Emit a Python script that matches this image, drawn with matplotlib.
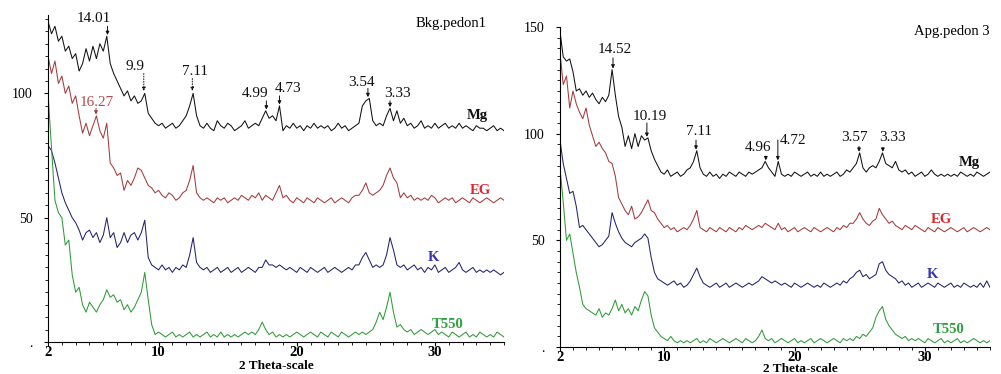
import numpy as np
import matplotlib
matplotlib.use("Agg")
import matplotlib.pyplot as plt
from matplotlib.ticker import MultipleLocator

plt.rcParams['font.family'] = ['Liberation Serif', 'DejaVu Serif']

# 2 theta grid, 0.25 deg steps from 2 to 35
two_theta = np.linspace(2, 35, 133)

# ---- left panel: Bkg.pedon1 ----
left_mg = [129, 124, 127, 121, 123, 117, 119, 114, 116, 109,
           112, 118, 113, 119, 114, 120, 117, 123, 112, 108,
           105, 102, 99, 101, 97, 99, 96, 97, 100, 92,
           90, 88, 87, 88, 86, 87, 88, 86, 87, 89,
           91, 95, 100, 91, 87, 86, 88, 86, 85, 89,
           87, 86, 88, 87, 85, 86, 87, 89, 86, 87,
           88, 87, 90, 93, 90, 91, 89, 95, 85, 87,
           86, 88, 86, 87, 85, 87, 86, 88, 86, 87,
           86, 87, 85, 86, 88, 86, 87, 85, 86, 87,
           88, 95, 97, 98, 89, 87, 88, 87, 91, 94,
           89, 93, 88, 90, 87, 88, 86, 87, 89, 86,
           87, 86, 88, 86, 87, 88, 86, 87, 86, 88,
           86, 87, 86, 85, 87, 86, 86, 85, 86, 87,
           85, 86, 85]
left_eg = [115, 108, 113, 104, 107, 100, 103, 96, 99, 91,
           84, 88, 83, 87, 91, 85, 82, 88, 72, 70,
           67, 68, 61, 65, 63, 66, 70, 69, 66, 63,
           62, 60, 61, 59, 58, 60, 59, 57, 58, 60,
           61, 65, 71, 60, 58, 57, 58, 57, 56, 58,
           57, 58, 56, 57, 58, 57, 59, 58, 57, 59,
           58, 60, 57, 59, 58, 57, 60, 63, 58, 59,
           57, 56, 58, 57, 56, 58, 57, 56, 58, 57,
           56, 57, 58, 56, 57, 58, 57, 56, 58, 59,
           59, 61, 64, 60, 59, 60, 61, 63, 67, 70,
           66, 64, 58, 60, 58, 59, 57, 58, 57, 58,
           57, 59, 58, 56, 57, 58, 57, 58, 56, 57,
           58, 57, 56, 58, 57, 56, 57, 58, 57, 56,
           57, 58, 57]
left_k = [79, 77, 72, 66, 60, 56, 53, 50, 48, 45,
          41, 44, 45, 42, 44, 40, 43, 50, 42, 44,
          38, 40, 44, 40, 43, 44, 41, 44, 49, 34,
          31, 30, 29, 31, 29, 30, 28, 30, 29, 31,
          30, 35, 42, 32, 30, 29, 30, 28, 29, 30,
          28, 29, 30, 28, 29, 30, 28, 29, 30, 29,
          28, 30, 30, 33, 31, 31, 30, 31, 30, 29,
          30, 29, 28, 30, 29, 28, 30, 29, 28, 29,
          30, 28, 29, 30, 29, 28, 29, 30, 29, 31,
          31, 34, 36, 33, 30, 31, 30, 31, 35, 42,
          37, 31, 30, 31, 29, 30, 31, 29, 30, 28,
          30, 29, 31, 28, 29, 30, 28, 29, 30, 32,
          29, 28, 29, 30, 28, 29, 28, 29, 28, 29,
          28, 27, 28]
left_t550 = [100, 78, 57, 52, 50, 39, 41, 27, 20, 22,
             15, 12, 16, 14, 12, 15, 17, 21, 18, 19,
             16, 17, 13, 15, 12, 14, 17, 20, 28, 17,
             7, 3, 4, 3, 2, 3, 4, 2, 3, 2,
             3, 4, 2, 3, 2, 3, 4, 2, 3, 2,
             4, 2, 3, 2, 3, 2, 3, 4, 3, 4,
             3, 5, 8, 5, 3, 4, 2, 3, 2, 3,
             2, 3, 4, 3, 2, 3, 4, 3, 2, 4,
             3, 2, 4, 3, 2, 4, 3, 2, 3, 4,
             3, 4, 3, 4, 5, 8, 12, 9, 14, 20,
             12, 6, 7, 5, 4, 5, 3, 4, 5, 4,
             3, 4, 5, 3, 4, 3, 2, 4, 3, 2,
             3, 4, 2, 3, 2, 4, 3, 2, 3, 2,
             4, 3, 2]

# ---- right panel: Apg.pedon 3 ----
right_mg = [148, 136, 134, 135, 129, 120, 121, 118, 120, 117,
            119, 116, 114, 117, 115, 118, 130, 118, 108, 103,
            94, 99, 93, 100, 94, 99, 97, 98, 92, 88,
            85, 82, 81, 83, 80, 81, 82, 80, 81, 83,
            84, 87, 92, 84, 81, 80, 82, 80, 81, 79,
            81, 80, 82, 81, 80, 82, 81, 80, 82, 81,
            82, 83, 84, 87, 84, 82, 80, 87, 81, 80,
            81, 80, 82, 81, 80, 81, 82, 80, 81, 80,
            82, 80, 81, 80, 81, 82, 80, 81, 83, 82,
            84, 86, 91, 84, 82, 84, 85, 84, 87, 91,
            86, 85, 84, 87, 83, 82, 83, 81, 82, 80,
            81, 82, 80, 81, 83, 81, 80, 81, 80, 81,
            80, 81, 80, 82, 81, 80, 81, 80, 82, 81,
            80, 81, 82]
right_eg = [138, 123, 127, 112, 120, 114, 110, 107, 112, 104,
            99, 94, 96, 93, 91, 87, 86, 80, 70, 67,
            64, 62, 66, 60, 61, 63, 66, 69, 64, 63,
            60, 58, 56, 57, 55, 56, 54, 55, 56, 55,
            57, 60, 64, 56, 55, 54, 56, 55, 54, 56,
            55, 54, 56, 55, 54, 56, 55, 57, 56, 55,
            56, 57, 56, 58, 57, 56, 55, 58, 55, 56,
            54, 55, 56, 54, 55, 56, 55, 54, 56, 55,
            54, 55, 56, 55, 54, 56, 55, 57, 56, 58,
            58, 60, 63, 60, 58, 57, 59, 60, 65, 62,
            60, 58, 59, 57, 56, 55, 57, 56, 55, 57,
            56, 55, 54, 56, 55, 54, 56, 55, 54, 55,
            56, 55, 54, 55, 56, 54, 55, 56, 55, 54,
            55, 56, 55]
right_k = [97, 86, 79, 72, 73, 66, 56, 57, 55, 53,
           51, 49, 47, 48, 50, 52, 63, 58, 54, 51,
           49, 48, 47, 49, 50, 51, 53, 51, 42, 35,
           32, 31, 30, 29, 30, 31, 29, 30, 28, 29,
           31, 34, 37, 33, 30, 29, 28, 29, 30, 28,
           29, 30, 28, 29, 30, 29, 28, 29, 30, 29,
           30, 31, 33, 32, 31, 30, 31, 30, 29, 30,
           29, 28, 30, 29, 28, 29, 30, 29, 28, 29,
           28, 30, 29, 28, 29, 30, 29, 31, 30, 32,
           33, 35, 36, 33, 34, 32, 33, 34, 39, 40,
           36, 34, 33, 32, 30, 31, 29, 30, 28, 29,
           30, 28, 29, 30, 29, 28, 30, 29, 28, 29,
           30, 28, 29, 28, 30, 29, 28, 29, 28, 30,
           28, 31, 28]
right_t550 = [84, 68, 50, 53, 44, 35, 28, 20, 18, 17,
              16, 15, 18, 14, 16, 15, 18, 22, 17, 20,
              16, 18, 15, 19, 17, 22, 26, 24, 15, 9,
              7, 5, 4, 3, 5, 3, 2, 3, 2, 3,
              2, 3, 4, 2, 3, 2, 4, 3, 2, 3,
              4, 3, 2, 3, 4, 3, 2, 4, 3, 2,
              3, 5, 8, 4, 3, 4, 2, 3, 4, 3,
              2, 3, 4, 2, 3, 2, 3, 4, 2, 3,
              4, 3, 2, 3, 4, 3, 2, 4, 3, 4,
              3, 5, 4, 6, 5, 7, 9, 14, 17, 19,
              13, 10, 8, 6, 5, 4, 5, 3, 4, 3,
              4, 3, 2, 4, 3, 2, 3, 4, 2, 3,
              2, 3, 4, 2, 3, 2, 3, 4, 3, 2,
              3, 2, 3]

series_names = ['Mg', 'EG', 'K', 'T550']
line_colors = ['#111111', '#a33a3c', '#22226e', '#2f9a38']
text_colors = ['#111111', '#e0262c', '#3535b5', '#2fa03f']

# d-spacing labels: (text, peak 2theta, arrow tail y, arrow tip y, text x, text y, dotted, color)
left_peaks = [('14.01', 6.3, 127, 123.5, 5.3, 130, False, 0),
              ('9.9', 8.93, 108, 101, 8.3, 111, True, 0),
              ('7.11', 12.44, 106, 101, 12.6, 109, True, 0),
              ('4.99', 17.8, 97, 93.5, 17.0, 100, False, 0),
              ('4.73', 18.75, 99, 95.5, 19.4, 102, False, 0),
              ('3.54', 25.15, 102, 98.5, 24.7, 104.5, False, 0),
              ('3.33', 26.75, 97, 94.5, 27.3, 100, False, 0),
              ('16.27', 5.47, 94, 91.5, 5.5, 96.5, False, 1)]
right_peaks = [('14.52', 6.07, 135.5, 130.5, 6.2, 139.4, False, 0),
               ('10.19', 8.67, 105, 98.5, 8.9, 108, False, 0),
               ('7.11', 12.44, 97, 92.5, 12.7, 101, False, 0),
               ('4.96', 17.8, 89.5, 87.5, 17.2, 93.4, False, 0),
               ('4.72', 18.72, 97, 87.5, 19.9, 97, False, 0),
               ('3.57', 24.95, 94, 91.5, 24.6, 98, False, 0),
               ('3.33', 26.78, 93.5, 91.5, 27.5, 98, False, 0)]

left_name_pos = [(33.1, 91), (33.3, 61), (29.9, 34), (30.9, 7)]
right_name_pos = [(33.4, 86.4), (31.3, 60), (30.6, 34), (31.8, 8)]


def draw_panel(ax, curves, peaks, name_pos, title, title_xy, ytop, yticks):
    for vals, col in zip(curves, line_colors):
        ax.plot(two_theta, vals, color=col, lw=0.75)

    for txt, px, tail, tip, tx, ty, dotted, ci in peaks:
        ax.annotate('', xy=(px, tip), xytext=(px, tail),
                    arrowprops=dict(arrowstyle='-|>', color=line_colors[ci], lw=0.7,
                                    mutation_scale=5, shrinkA=0, shrinkB=0,
                                    linestyle=':' if dotted else '-'))
        tcol = '#111111' if ci == 0 else '#b84a4e'
        ax.text(tx, ty, txt, ha='center', va='center', fontsize=11, color=tcol,
                clip_on=False)

    for name, (nx, ny), col in zip(series_names, name_pos, text_colors):
        ax.text(nx, ny, name, ha='center', va='center', fontsize=10.5,
                fontweight='bold', color=col)

    ax.text(title_xy[0], title_xy[1], title, ha='center', va='center',
            fontsize=10.5, clip_on=False)

    ax.set_xlim(2, 35)
    ax.set_ylim(0, ytop)
    ax.spines['top'].set_visible(False)
    ax.spines['right'].set_visible(False)
    ax.set_xticks([2, 10, 20, 30])
    ax.set_xticklabels(['2', '10', '20', '30'], fontweight='bold', fontsize=10.5)
    ax.xaxis.set_minor_locator(MultipleLocator(1))
    ax.set_yticks(yticks)
    ax.set_yticklabels(['.' if v == 0 else str(v) for v in yticks], fontsize=10)
    ax.yaxis.set_minor_locator(MultipleLocator(5))
    ax.tick_params(axis='both', which='major', length=3, width=0.8, pad=0)
    ax.tick_params(axis='both', which='minor', length=2, width=0.6)
    ax.tick_params(axis='y', which='major', pad=8)


fig = plt.figure(figsize=(10.01, 3.74), dpi=100)

ax1 = fig.add_axes([0.048, 0.0856, 0.4555, 0.874])
draw_panel(ax1, [left_mg, left_eg, left_k, left_t550], left_peaks, left_name_pos,
           'Bkg.pedon1', (31.2, 128), 131.5, [0, 50, 100])
ax1.set_xlabel('2 Theta-scale', fontweight='bold', fontsize=9.5, va='center')
ax1.xaxis.set_label_coords(0.5, -0.072)

ax2 = fig.add_axes([0.5594, 0.072, 0.4296, 0.856])
draw_panel(ax2, [right_mg, right_eg, right_k, right_t550], right_peaks, right_name_pos,
           'Apg.pedon 3', (32.1, 148), 150, [0, 50, 100, 150])
ax2.set_xlabel('2 Theta-scale', fontweight='bold', fontsize=9.5, va='center')
ax2.xaxis.set_label_coords(0.56, -0.069)

fig.savefig('out.png', dpi=100)
